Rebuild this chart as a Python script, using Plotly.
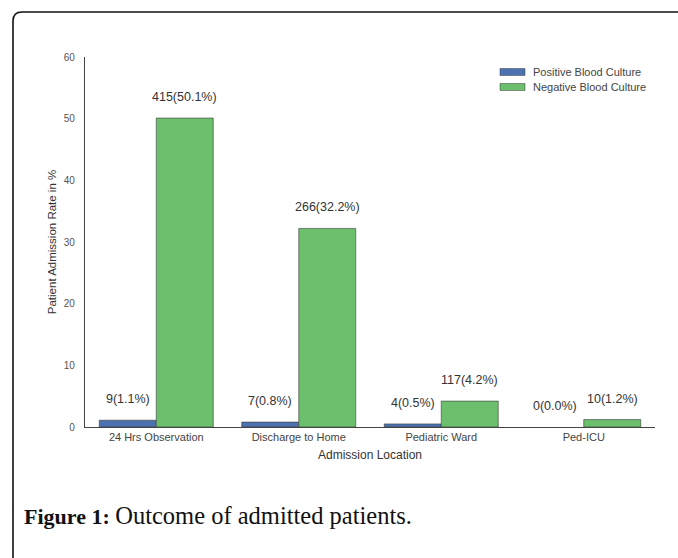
import plotly.graph_objects as go

categories = ["24 Hrs Observation", "Discharge to Home", "Pediatric Ward", "Ped-ICU"]
positive_pct = [1.1, 0.8, 0.5, 0.0]
negative_pct = [50.1, 32.2, 4.2, 1.2]
positive_n = [9, 7, 4, 0]
negative_n = [415, 266, 117, 10]
series_names = ["Positive Blood Culture", "Negative Blood Culture"]
series_colors = ["#4C72B0", "#6CBF6C"]
y_ticks = [0, 10, 20, 30, 40, 50, 60]

W, H = 678, 558
L, R, T, B = 85, 23, 57, 131
pw, ph = W - L - R, H - T - B

def px(x):
    return (x - L) / pw

def py(y):
    return 1 - (y - T) / ph

fig = go.Figure()
fig.add_trace(go.Bar(x=categories, y=positive_pct, name=series_names[0],
                     marker=dict(color=series_colors[0],
                                 line=dict(color="#3a3a3a", width=[0.6 if v > 0 else 0 for v in positive_pct]))))
fig.add_trace(go.Bar(x=categories, y=negative_pct, name=series_names[1],
                     marker=dict(color=series_colors[1], line=dict(color="#3a3a3a", width=0.6))))

label_font = dict(family="Liberation Sans, Arial", size=12.5, color="#333333")
for cat, v, n in zip(categories, positive_pct, positive_n):
    fig.add_annotation(x=cat, y=v, text=f"{n}({v:.1f}%)", showarrow=False,
                       xshift=-28.5, yshift=21, font=label_font)
for cat, v, n in zip(categories, negative_pct, negative_n):
    fig.add_annotation(x=cat, y=v, text=f"{n}({v:.1f}%)", showarrow=False,
                       xshift=28.5, yshift=21, font=label_font)

# manual legend (wide flat swatches)
for i, (name, col) in enumerate(zip(series_names, series_colors)):
    yc = 72 + 15 * i
    fig.add_shape(type="rect", xref="paper", yref="paper",
                  x0=px(500), x1=px(525), y0=py(yc + 3.5), y1=py(yc - 3.5),
                  fillcolor=col, line=dict(color="#3a3a3a", width=0.5))
    fig.add_annotation(xref="paper", yref="paper", x=px(531), y=py(yc), xanchor="left", yanchor="middle",
                       text=name, showarrow=False, font=dict(family="Liberation Sans, Arial", size=11, color="#444444"))

# caption
fig.add_annotation(xref="paper", yref="paper", x=px(22), y=py(515), xanchor="left", yanchor="middle",
                   text="<b>Figure 1:</b> <span style='font-size:24.5px'>Outcome of admitted patients.</span>",
                   showarrow=False,
                   font=dict(family="Liberation Serif, Times New Roman", size=22, color="#111111"))

# frame with rounded top-left corner
x0, y0 = px(13), py(12)
x1, yb = px(700), py(580)
rx = 9 / pw
ry = 9 / ph
path = (f"M {x0},{yb} L {x0},{y0 - ry} Q {x0},{y0} {x0 + rx},{y0} L {x1},{y0}")
fig.add_shape(type="path", xref="paper", yref="paper", path=path,
              line=dict(color="#111111", width=1.6))

fig.update_layout(
    width=W, height=H,
    margin=dict(l=L, r=R, t=T, b=B, autoexpand=False),
    paper_bgcolor="white", plot_bgcolor="white",
    barmode="group", bargap=0.2, bargroupgap=0,
    font=dict(family="Liberation Sans, Arial", color="#555555"),
    showlegend=False,
    xaxis=dict(range=[-0.5, 3.5], showline=True, linecolor="#444444", linewidth=1.2,
               ticks="", tickfont=dict(size=11, color="#444444"),
               title=dict(text="Admission Location", font=dict(size=12, color="#333333"), standoff=8),
               showgrid=False, zeroline=False),
    yaxis=dict(range=[0, 60], tickvals=y_ticks, showline=True, linecolor="#444444", linewidth=1.2,
               ticks="", ticklabelstandoff=7, tickfont=dict(size=10, color="#555555"),
               title=dict(text="Patient Admission Rate in %", font=dict(size=11.5, color="#333333"), standoff=4),
               showgrid=False, zeroline=False),
)

fig.write_html("out.html", config={"displayModeBar": False},
               post_script="document.body.style.margin='0px';")
